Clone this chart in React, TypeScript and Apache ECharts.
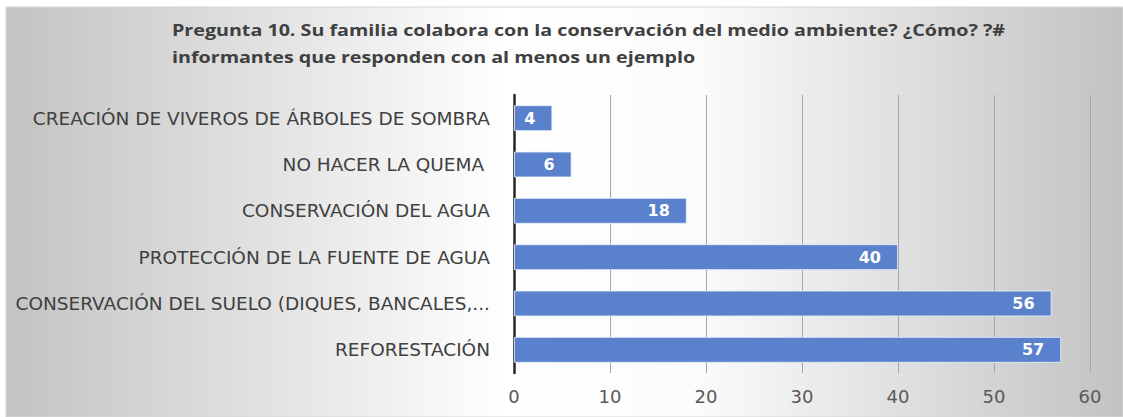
import React, { useEffect, useRef } from "react";
import * as echarts from "echarts";

const titleLines = [
  "Pregunta 10. Su familia colabora con la conservación del medio ambiente? ¿Cómo? ?#",
  "informantes que responden con al menos un ejemplo",
];
const categories = [
  "CREACIÓN DE VIVEROS DE ÁRBOLES DE SOMBRA",
  "NO HACER LA QUEMA ",
  "CONSERVACIÓN DEL AGUA",
  "PROTECCIÓN DE LA FUENTE DE AGUA",
  "CONSERVACIÓN DEL SUELO (DIQUES, BANCALES,...",
  "REFORESTACIÓN",
];
const values = [4, 6, 18, 40, 56, 57];
const xMin = 0;
const xMax = 60;
const xStep = 10;

const TITLE_FONT = "'Open Sans', 'Noto Sans', sans-serif";
const FONT = "'DejaVu Sans', 'Open Sans', sans-serif";

export default function App() {
  const ref = useRef<HTMLDivElement>(null);
  useEffect(() => {
    document.body.style.margin = "0";
    const chart = echarts.init(ref.current!, null, { renderer: "svg" });
    chart.setOption({
      animation: false,
      graphic: [
        {
          type: "rect",
          z: -10,
          silent: true,
          shape: { x: 6, y: 7, width: 1117, height: 410 },
          style: {
            fill: new echarts.graphic.LinearGradient(0, 0, 1, 0, [
              { offset: 0, color: "#c3c3c3" },
              { offset: 0.45, color: "#ffffff" },
              { offset: 0.62, color: "#fbfbfb" },
              { offset: 1, color: "#c2c2c2" },
            ]),
            stroke: "#d6d6d6",
            lineWidth: 1,
          },
        },
        {
          type: "text",
          x: 172,
          y: 16,
          scaleX: 1.23,
          style: {
            text: titleLines.join("\n"),
            font: `bold 16px ${TITLE_FONT}`,
            fill: "#404040",
            lineHeight: 27,
          },
        },
      ],
      grid: { left: 514, top: 95, width: 576, height: 278, containLabel: false },
      xAxis: {
        type: "value",
        min: xMin,
        max: xMax,
        interval: xStep,
        axisLine: { show: false },
        axisTick: { show: false },
        splitLine: { lineStyle: { color: "#a6a6a6", width: 1 } },
        axisLabel: {
          color: "#595959",
          fontFamily: FONT,
          fontSize: 18,
          margin: 14,
        },
      },
      yAxis: {
        type: "category",
        data: categories,
        inverse: true,
        axisLine: { show: true, lineStyle: { color: "#262626", width: 2.5 } },
        axisTick: { show: false },
        axisLabel: {
          color: "#404040",
          fontFamily: FONT,
          fontSize: 18.5,
          margin: 24,
        },
      },
      series: [
        {
          type: "bar",
          data: values,
          barCategoryGap: "44%",
          itemStyle: {
            color: "#5a81cc",
            borderColor: "rgba(235,240,250,0.8)",
            borderWidth: 1,
          },
          label: {
            show: true,
            position: "insideRight",
            distance: 17,
            color: "#ffffff",
            fontFamily: FONT,
            fontWeight: "bold",
            fontSize: 16,
          },
        },
      ],
    });
    return () => chart.dispose();
  }, []);
  return <div ref={ref} style={{ width: 1123, height: 417 }} />;
}
